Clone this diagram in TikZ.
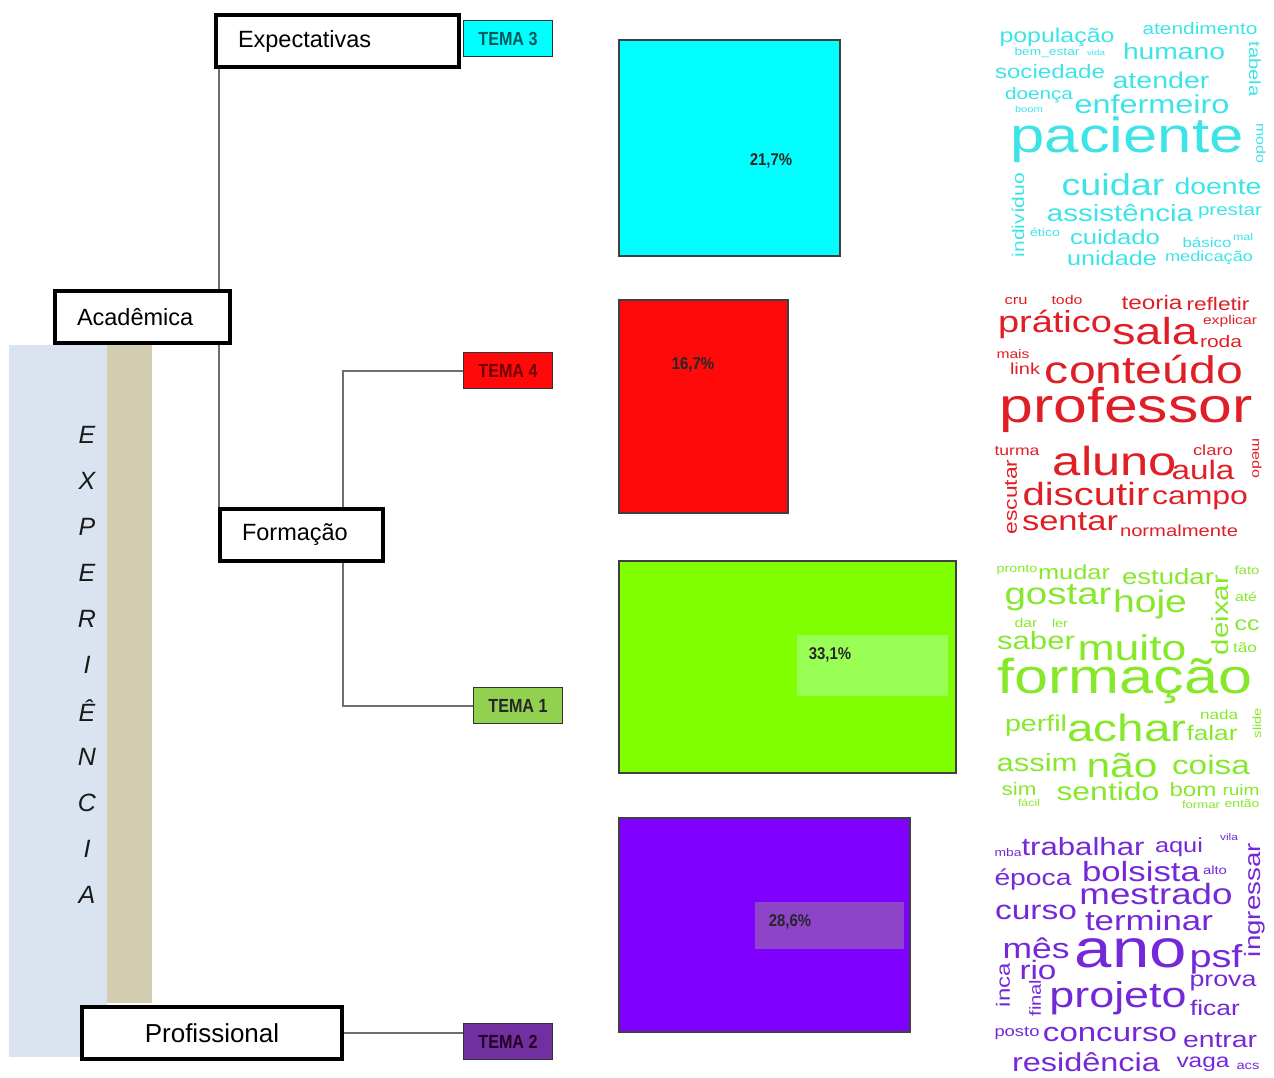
\documentclass[tikz,border=0pt]{standalone}
\usepackage{fontspec}
\setmainfont{Liberation Sans}
\usetikzlibrary{positioning,backgrounds}
\definecolor{expblue}{HTML}{DAE3F0}
\definecolor{exptan}{HTML}{D3CDB2}
\definecolor{linkgray}{HTML}{6E6E6E}
\definecolor{cyanfill}{HTML}{00FFFF}
\definecolor{redfill}{HTML}{FF0A0A}
\definecolor{greenfill}{HTML}{80FF00}
\definecolor{purplefill}{HTML}{8000FF}
\definecolor{temagreen}{HTML}{92D050}
\definecolor{temapurple}{HTML}{7030A0}
\definecolor{greenhl}{HTML}{99FF55}
\definecolor{purplehl}{HTML}{8E44C8}
\definecolor{cloudcyan}{HTML}{3CE4E8}
\definecolor{cloudred}{HTML}{E01E26}
\definecolor{cloudgreen}{HTML}{86E82A}
\definecolor{cloudpurple}{HTML}{7428D8}
\newcommand{\cloudword}[2]{\resizebox{#1pt}{!}{\scalebox{1}[0.8]{#2}}}
\tikzset{
  catbox/.style={draw=black, line width=4pt, fill=white, inner xsep=22pt, inner ysep=0pt,
    minimum height=52pt, align=left, anchor=north west, font=\fontsize{23.5}{28}\selectfont},
  tema/.style={draw=black!80, line width=1pt, minimum width=89pt, minimum height=36pt,
    inner sep=0pt, anchor=north west, font=\bfseries\fontsize{19}{22}\selectfont},
  bar/.style={draw=black!75, line width=2pt, inner sep=0pt, anchor=north west},
  pct/.style={font=\bfseries\fontsize{17}{20}\selectfont, text=black!85},
  link/.style={draw=linkgray, line width=2pt},
  letter/.style={font=\itshape\fontsize{25}{30}\selectfont, text=black!90},
  word/.style={inner sep=0pt},
}
\begin{document}
\begin{tikzpicture}[x=1pt,y=-1pt]
\useasboundingbox (0,0) rectangle (1274,1077);

\fill[expblue] (9,345) rectangle (107,1057);
\fill[exptan] (107,345) rectangle (152,1003);
\foreach \l [count=\i] in {E,X,P,E,R,I,Ê,N,C,I,A}
  \node[letter] (l\i) at (87,389+46*\i) {\l};

\node[catbox, text width=199pt] (exp) at (214,13) {Expectativas};
\node[catbox, text width=131pt] (acad) at (53,289) {Acadêmica};
\node[catbox, text width=119pt] (form) at (218,507) {Formação};
\node[catbox, text width=216pt, align=center, font=\fontsize{26}{30}\selectfont] (prof) at (80,1005) {Profissional};

\node[tema, fill=cyanfill, text=teal!70!black] (tema3) at (463,20) {\scalebox{0.85}[1]{TEMA 3}};
\node[tema, fill=redfill, text=red!45!black] (tema4) at (463,352) {\scalebox{0.85}[1]{TEMA 4}};
\node[tema, fill=temagreen, text=black!85] (tema1) at (473,687) {\scalebox{0.85}[1]{TEMA 1}};
\node[tema, fill=temapurple, text=violet!30!black] (tema2) at (463,1023) {\scalebox{0.85}[1]{TEMA 2}};

\begin{scope}[on background layer]
  \draw[link] ([xshift=5pt]exp.south west) -- ([xshift=1pt]form.north west);
  \draw[link] (tema4.west) -- ++(-120,0) |- (tema1.west);
  \draw[link] (prof.east) -- (prof.east -| tema2.west);
\end{scope}

\node[bar, fill=cyanfill, minimum width=221pt, minimum height=216pt] (bar3) at (618,39) {};
\node[bar, fill=redfill, minimum width=169pt, minimum height=213pt] (bar4) at (618,299) {};
\node[bar, fill=greenfill, minimum width=337pt, minimum height=212pt] (bar1) at (618,560) {};
\node[bar, fill=purplefill, minimum width=291pt, minimum height=214pt] (bar2) at (618,817) {};
\fill[greenhl] (797,635) rectangle (948,696);
\fill[purplehl] (755,902) rectangle (904,949);
\node[pct] (p3) at (771,161) {\scalebox{0.88}[1]{21,7\%}};
\node[pct] (p4) at (693,365) {\scalebox{0.88}[1]{16,7\%}};
\node[pct] (p1) at (830,655) {\scalebox{0.88}[1]{33,1\%}};
\node[pct] (p2) at (790,922) {\scalebox{0.88}[1]{28,6\%}};

\foreach \x/\y/\ww/\txt [count=\i] in {1057/37/115/população, 1200/29/115/atendimento,
  1047/53/65/bem\_estar, 1096/53/18/vida, 1174/51/102/humano, 1050/72/110/sociedade,
  1161/80/97/atender, 1039/95/68/doença, 1029/109/28/boom, 1152/104/155/enfermeiro,
  1127/140/233/paciente, 1113/185/103/cuidar, 1218/186/87/doente, 1120/213/146/assistência,
  1230/212/64/prestar, 1115/237/90/cuidado, 1207/243/49/básico, 1243/237/20/mal,
  1045/232/30/ético, 1112/258/90/unidade, 1209/258/88/medicação}
  \node[word, text=cloudcyan] (cy\i) at (\x,\y) {\cloudword{\ww}{\txt}};
\foreach \x/\y/\ww/\txt/\r [count=\i] in {1018/215/84/indivíduo/90, 1255/69/55/tabela/-90, 1261/143/40/modo/-90}
  \node[word, text=cloudcyan, rotate=\r] (cyv\i) at (\x,\y) {\cloudword{\ww}{\txt}};

\foreach \x/\y/\ww/\txt [count=\i] in {1016/301/23/cru, 1067/300/31/todo, 1152/303/61/teoria,
  1218/304/63/refletir, 1055/324/114/prático, 1155/331/86/sala, 1230/321/54/explicar,
  1221/341/42/roda, 1013/354/33/mais, 1025/369/30/link, 1144/370/198/conteúdo,
  1126/410/253/professor, 1017/451/45/turma, 1213/450/40/claro, 1115/461/124/aluno,
  1203/470/63/aula, 1086/494/127/discutir, 1200/500/96/campo, 1070/522/96/sentar,
  1179/531/118/normalmente}
  \node[word, text=cloudred] (rd\i) at (\x,\y) {\cloudword{\ww}{\txt}};
\foreach \x/\y/\ww/\txt/\r [count=\i] in {1011/497/75/escutar/90, 1257/458/40/medo/-90}
  \node[word, text=cloudred, rotate=\r] (rdv\i) at (\x,\y) {\cloudword{\ww}{\txt}};

\foreach \x/\y/\ww/\txt [count=\i] in {1017/570/41/pronto, 1074/572/72/mudar, 1168/577/92/estudar,
  1247/570/25/fato, 1058/598/107/gostar, 1150/604/74/hoje, 1246/597/22/até, 1026/623/23/dar,
  1060/623/16/ler, 1247/625/25/cc, 1036/641/78/saber, 1132/648/109/muito, 1245/648/24/tão,
  1125/681/255/formação, 1219/715/38/nada, 1036/726/62/perfil, 1127/728/119/achar,
  1212/733/51/falar, 1037/763/81/assim, 1122/765/71/não, 1211/765/78/coisa, 1019/789/35/sim,
  1029/803/22/fácil, 1108/791/103/sentido, 1193/790/47/bom, 1241/790/37/ruim,
  1201/805/38/formar, 1242/804/35/então}
  \node[word, text=cloudgreen] (gr\i) at (\x,\y) {\cloudword{\ww}{\txt}};
\foreach \x/\y/\ww/\txt/\r [count=\i] in {1220/615/80/deixar/90, 1257/723/30/slide/90}
  \node[word, text=cloudgreen, rotate=\r] (grv\i) at (\x,\y) {\cloudword{\ww}{\txt}};

\foreach \x/\y/\ww/\txt [count=\i] in {1008/853/27/mba, 1083/847/123/trabalhar, 1179/847/48/aqui,
  1229/837/18/vila, 1033/880/77/época, 1141/872/118/bolsista, 1215/870/24/alto,
  1156/894/153/mestrado, 1036/912/82/curso, 1149/921/128/terminar, 1036/948/67/mês,
  1131/953/112/ano, 1216/959/53/psf, 1038/970/37/rio, 1223/983/67/prova, 1118/998/137/projeto,
  1215/1008/50/ficar, 1017/1033/45/posto, 1110/1035/134/concurso, 1220/1040/74/entrar,
  1086/1062/148/residência, 1203/1064/53/vaga, 1248/1066/23/acs}
  \node[word, text=cloudpurple] (pu\i) at (\x,\y) {\cloudword{\ww}{\txt}};
\foreach \x/\y/\ww/\txt/\r [count=\i] in {1255/900/114/ingressar/90, 1003/985/44/inca/90, 1035/998/37/final/90}
  \node[word, text=cloudpurple, rotate=\r] (puv\i) at (\x,\y) {\cloudword{\ww}{\txt}};
\end{tikzpicture}
\end{document}
